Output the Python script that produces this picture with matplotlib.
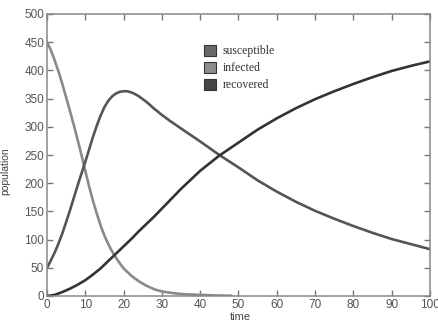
import matplotlib
matplotlib.use('Agg')
import matplotlib.pyplot as plt
from matplotlib.patches import Patch

# values
t_s = [0, 1, 2, 3, 4, 5, 6, 7, 8, 9, 10, 11, 12, 13, 14, 15, 16, 17, 18, 19, 20,
       22, 24, 26, 28, 30, 33, 36, 40, 44, 48]
susceptible = [450, 436, 418, 398, 376, 352, 328, 303, 277, 250, 222, 194, 169, 146, 125,
               107, 92, 79, 68, 58, 49, 36, 26, 18, 12, 8, 5, 3, 2, 1, 0.5]

t_i = [0, 1, 2, 3, 4, 5, 6, 7, 8, 9, 10, 11, 12, 13, 14, 15, 16, 17, 18, 19, 20, 21,
       22, 23, 24, 25, 26, 27, 28, 30, 32, 35, 40, 45, 50, 55, 60, 65, 70, 75, 80, 85,
       90, 95, 100]
infected = [50, 63, 77, 93, 111, 131, 152, 174, 196, 217, 238, 260, 282, 302, 320, 335,
            346, 354, 359, 362, 363, 363, 361, 358, 354, 349, 344, 338, 332, 321, 311, 297,
            274, 250, 228, 205, 185, 167, 151, 137, 124, 112, 101, 92, 83]

t_r = [0, 2, 4, 6, 8, 10, 12, 14, 16, 18, 20, 22, 24, 26, 28, 30, 32, 35, 40, 45,
       50, 55, 60, 65, 70, 75, 80, 85, 90, 95, 100]
recovered = [0, 2, 7, 13, 20, 28, 38, 49, 62, 75, 88, 101, 115, 128, 141, 155, 169, 190,
             222, 249, 272, 295, 315, 333, 349, 363, 376, 388, 399, 408, 416]

legend_labels = ['susceptible', 'infected', 'recovered']
legend_colors = ['#6a6a6a', '#8c8c8c', '#444444']

fig = plt.figure(figsize=(4.39, 3.21), dpi=100)
ax = fig.add_axes([47/439, 1-296/321, 383/439, 282/321])

ax.plot(t_s, susceptible, color='#8a8a8a', lw=1.9)
ax.plot(t_i, infected, color='#555555', lw=1.9)
ax.plot(t_r, recovered, color='#333333', lw=1.9)

ax.set_xlim(0, 100)
ax.set_ylim(0, 500)
ax.set_xticks(range(0, 101, 10))
ax.set_yticks(range(0, 501, 50))
ax.tick_params(direction='in', top=True, right=True, length=4, width=1,
               color='#777777', labelcolor='#555555', labelsize=8.5, pad=2)
for lab in ax.get_xticklabels() + ax.get_yticklabels():
    lab.set_family('Liberation Sans')
for sp in ax.spines.values():
    sp.set_color('#888888')
    sp.set_linewidth(1.1)

ax.set_xlabel('time', fontsize=8, color='#444444', family='Liberation Sans')
ax.xaxis.set_label_coords(0.504, -0.058)
ax.set_ylabel('population', fontsize=7.5, color='#444444', family='Liberation Sans')
ax.yaxis.set_label_coords(-0.095, 0.443)

handles = [Patch(facecolor=c, edgecolor='#333333', linewidth=0.8) for c in legend_colors]
leg = ax.legend(handles, legend_labels, loc='upper left', bbox_to_anchor=(0.41, 0.89),
                frameon=False, borderpad=0, borderaxespad=0, handlelength=1.0,
                handleheight=1.0, handletextpad=0.6, labelspacing=0.4,
                prop={'family': 'Liberation Serif', 'size': 8.5})
for txt in leg.get_texts():
    txt.set_color('#333333')

fig.savefig('out.png', dpi=100)
